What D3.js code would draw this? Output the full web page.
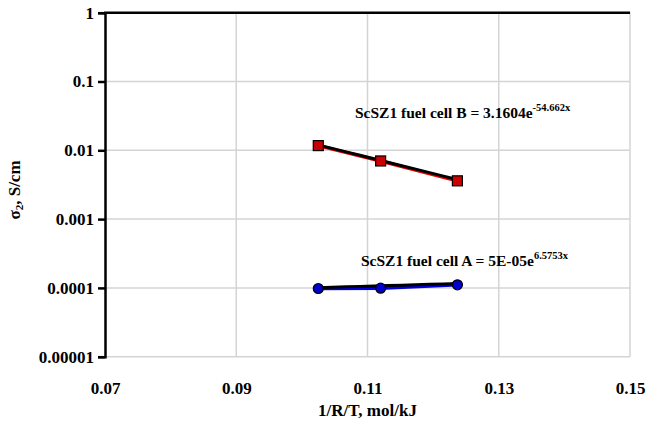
<!DOCTYPE html>
<html>
<head>
<meta charset="utf-8">
<script src="https://cdn.jsdelivr.net/npm/d3@7"></script>
<style>
  html, body { margin: 0; padding: 0; background: #fff; }
  svg { display: block; }
  svg text { font-family: "Liberation Serif", "Times New Roman", serif; font-weight: bold; fill: #000; }
</style>
</head>
<body>
<svg id="chart" width="647" height="423"></svg>
<script>
// ---- data ----
const xTicks = [0.07, 0.09, 0.11, 0.13, 0.15];
const yTicks = [1, 0.1, 0.01, 0.001, 0.0001, 0.00001];
const yTickLabels = ["1", "0.1", "0.01", "0.001", "0.0001", "0.00001"];

const cellBX = [0.1025, 0.1120, 0.1237];
const cellBY = [0.0117, 0.0070, 0.0036];
const cellAX = [0.1025, 0.1120, 0.1237];
const cellAY = [0.0000980, 0.0000990, 0.0001110];

// trendline equations as printed on the chart: y = a * exp(b x)
const trendB = [3.1604, -54.662];
const trendA = [5e-5, 6.5753];

const labelB = ["ScSZ1 fuel cell B = 3.1604e", "-54.662x"];
const labelA = ["ScSZ1 fuel cell A = 5E-05e", "6.5753x"];

// ---- layout ----
const svg = d3.select("#chart");
const x = d3.scaleLinear().domain([0.07, 0.15]).range([105, 630]);
const y = d3.scaleLog().domain([0.00001, 1]).range([356.7, 12.7]);

// gridlines
const grid = svg.append("g");
grid.selectAll("line.h").data(yTicks.slice(1)).enter().append("line")
  .attr("x1", x(0.07)).attr("x2", x(0.15))
  .attr("y1", d => y(d)).attr("y2", d => y(d))
  .attr("stroke", "#d4d4d4").attr("stroke-width", 1.5);
grid.selectAll("line.v").data(xTicks.slice(1)).enter().append("line")
  .attr("x1", d => x(d)).attr("x2", d => x(d))
  .attr("y1", y(1)).attr("y2", y(0.00001))
  .attr("stroke", "#d4d4d4").attr("stroke-width", 1.5);

// y axis
const yAxis = d3.axisLeft(y).tickValues(yTicks)
  .tickFormat((d, i) => yTickLabels[i]).tickSize(7).tickPadding(4);
const gy = svg.append("g").attr("transform", `translate(${x(0.07)},0)`).call(yAxis)
  .attr("font-family", null).attr("font-size", null);
gy.select(".domain").attr("stroke", "#000").attr("stroke-width", 2.5);
gy.selectAll(".tick line").attr("stroke", "#000").attr("stroke-width", 2.5);
gy.selectAll(".tick text").attr("font-size", 17);

// top x axis line (axis crosses at 1) with labels at bottom
svg.append("line").attr("x1", x(0.07) - 1).attr("x2", x(0.15))
  .attr("y1", y(1)).attr("y2", y(1))
  .attr("stroke", "#000").attr("stroke-width", 2.5);

const xAxis = d3.axisBottom(x).tickValues(xTicks).tickFormat(d3.format(".2f")).tickSize(0).tickPadding(0);
const gx = svg.append("g").attr("transform", "translate(0,381)").call(xAxis)
  .attr("font-family", null).attr("font-size", null);
gx.select(".domain").remove();
gx.selectAll(".tick text").attr("font-size", 17).attr("dy", null).attr("y", 13);

// axis titles
svg.append("text").attr("x", x(0.11)).attr("y", 416).attr("text-anchor", "middle")
  .attr("font-size", 17).text("1/R/T, mol/kJ");
const yt = svg.append("text").attr("transform", "translate(20,190) rotate(-90)")
  .attr("text-anchor", "middle").attr("font-size", 17);
yt.append("tspan").text("σ");
yt.append("tspan").attr("font-size", 11).attr("dy", 3).text("2");
yt.append("tspan").attr("dy", -3).text(", S/cm");

// series lines
const line = d3.line().x(d => x(d[0])).y(d => y(d[1]));
const ptsB = cellBX.map((v, i) => [v, cellBY[i]]);
const ptsA = cellAX.map((v, i) => [v, cellAY[i]]);

svg.append("path").attr("d", line(ptsB)).attr("fill", "none")
  .attr("stroke", "#e00000").attr("stroke-width", 3.5);
svg.append("path").attr("d", line(ptsA)).attr("fill", "none")
  .attr("stroke", "#0000e0").attr("stroke-width", 3.5);

// trendlines (from printed equations)
function trend(pts, t) {
  const xs = [pts[0][0], pts[pts.length - 1][0]];
  const samples = d3.range(0, 11).map(k => xs[0] + (xs[1] - xs[0]) * k / 10);
  return samples.map(v => [v, t[0] * Math.exp(t[1] * v)]);
}
svg.append("path").attr("d", line(trend(ptsB, trendB))).attr("fill", "none")
  .attr("stroke", "#000").attr("stroke-width", 3).attr("transform", "translate(0,-0.8)");
svg.append("path").attr("d", line(trend(ptsA, trendA))).attr("fill", "none")
  .attr("stroke", "#000").attr("stroke-width", 3).attr("transform", "translate(0,-0.8)");

// markers
svg.selectAll("rect.mB").data(ptsB).enter().append("rect")
  .attr("x", d => x(d[0]) - 5).attr("y", d => y(d[1]) - 5)
  .attr("width", 10).attr("height", 10)
  .attr("fill", "#cc0000").attr("stroke", "#000").attr("stroke-width", 1.2);
svg.selectAll("circle.mA").data(ptsA).enter().append("circle")
  .attr("cx", d => x(d[0])).attr("cy", d => y(d[1])).attr("r", 5)
  .attr("fill", "#0000cc").attr("stroke", "#000").attr("stroke-width", 1.2);

// equation labels
function eqLabel(xp, yp, parts) {
  const t = svg.append("text").attr("x", xp).attr("y", yp).attr("font-size", 15.5);
  t.append("tspan").text(parts[0]);
  t.append("tspan").attr("font-size", 10.5).attr("dy", -7).text(parts[1]);
}
eqLabel(355, 118, labelB);
eqLabel(361, 266, labelA);
</script>
</body>
</html>
